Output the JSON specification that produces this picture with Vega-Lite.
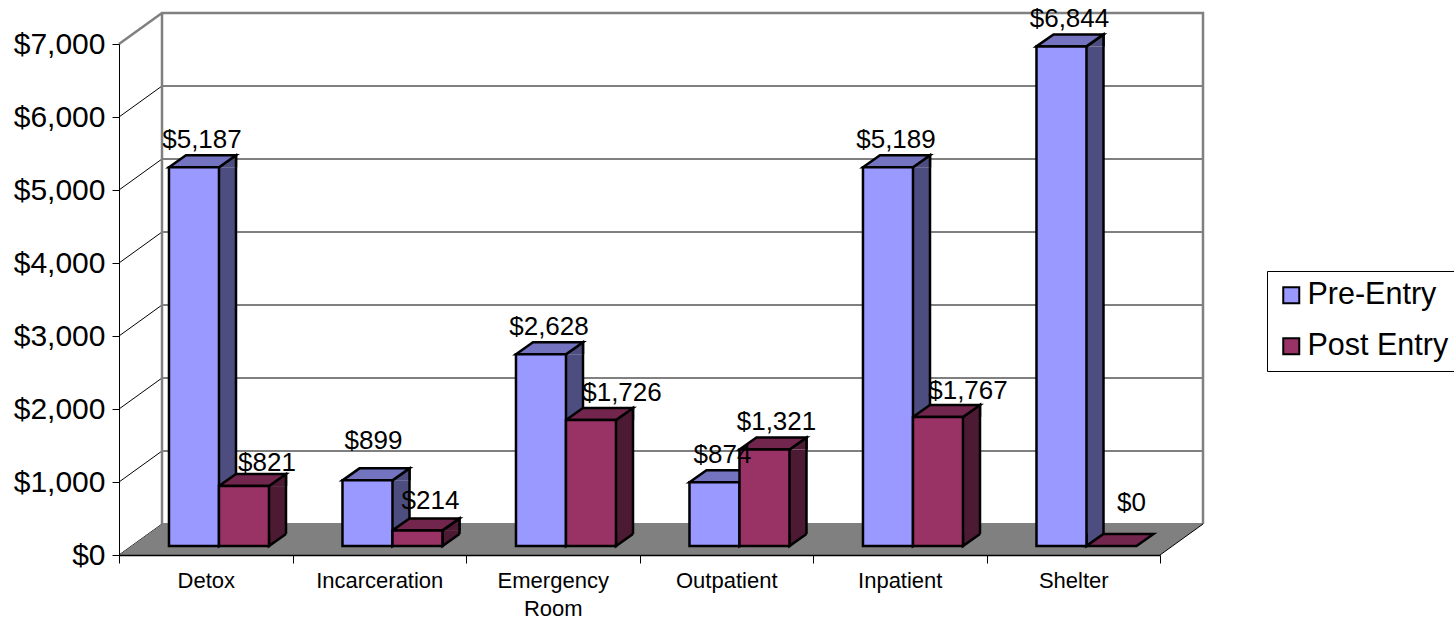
{
"$schema":"https://vega.github.io/schema/vega-lite/v6.json",
"width":1041,"height":511,
"autosize":{"type":"none"},
"padding":{"left":119,"top":44,"right":294,"bottom":64},
"background":"white",
"config":{"font":"Liberation Sans","view":{"stroke":null}},
"datasets":{
"ticks":[{"tick":0},{"tick":1000},{"tick":2000},{"tick":3000},{"tick":4000},{"tick":5000},{"tick":6000},{"tick":7000}],
"costs":[
{"category":"Detox","series":"Pre-Entry","value":5187},
{"category":"Detox","series":"Post Entry","value":821},
{"category":"Incarceration","series":"Pre-Entry","value":899},
{"category":"Incarceration","series":"Post Entry","value":214},
{"category":"Emergency Room","series":"Pre-Entry","value":2628},
{"category":"Emergency Room","series":"Post Entry","value":1726},
{"category":"Outpatient","series":"Pre-Entry","value":874},
{"category":"Outpatient","series":"Post Entry","value":1321},
{"category":"Inpatient","series":"Pre-Entry","value":5189},
{"category":"Inpatient","series":"Post Entry","value":1767},
{"category":"Shelter","series":"Pre-Entry","value":6844},
{"category":"Shelter","series":"Post Entry","value":0}
]},
"data":{"name":"costs"},
"encoding":{
"x":{"field":"category","type":"nominal","sort":["Detox","Incarceration","Emergency Room","Outpatient","Inpatient","Shelter"],
"scale":{"paddingInner":0,"paddingOuter":0},
"axis":{"title":null,"labelAngle":0,"labelFontSize":22,"labelColor":"#000","labelPadding":7,"labelLineHeight":28,"tickBand":"extent","tickSize":8,"tickColor":"#000","domainColor":"#000","domainWidth":1.5,"tickWidth":1,"zindex":1,"grid":false,
"labelExpr":"datum.label == 'Emergency Room' ? ['Emergency','Room'] : datum.label"}},
"xOffset":{"field":"series","type":"nominal","sort":["Pre-Entry","Post Entry"],"scale":{"paddingInner":0,"paddingOuter":0.735,"align":0.68}},
"y":{"field":"value","type":"quantitative","scale":{"domain":[0,7000],"nice":false},
"axis":{"title":null,"values":[0,1000,2000,3000,4000,5000,6000,7000],"format":"$,.0f","labelFontSize":30,"labelColor":"#000","labelPadding":7,"tickSize":7,"tickColor":"#000","domainColor":"#000","domainWidth":1,"zindex":1,"grid":false}}
},
"layer":[
{"data":{"name":"ticks"},"transform":[{"filter":"datum.tick < 7000"}],
"mark":{"type":"point","filled":false,"opacity":1,"size":4,"stroke":"#000","strokeWidth":1,"shape":"M-520.5 0 L-477.5 -31 L563.5 -31"},
"encoding":{"x":null,"xOffset":null,"y":{"field":"tick","type":"quantitative"}}},
{"data":{"name":"ticks"},"transform":[{"filter":"datum.tick == 0"}],
"mark":{"type":"point","filled":true,"opacity":1,"size":4,"fill":"#808080","stroke":null,"shape":"M-520.5 0 L520.5 0 L563.5 -31 L-477.5 -31 Z"},
"encoding":{"x":null,"xOffset":null,"y":{"field":"tick","type":"quantitative"}}},
{"data":{"name":"ticks"},"transform":[{"filter":"datum.tick == 7000"}],
"mark":{"type":"point","filled":false,"opacity":1,"size":4,"stroke":"#808080","strokeWidth":2.5,"shape":"M-520.5 0 L-477.5 -31 L563.5 -31 L563.5 480 M-477.5 -31 L-477.5 480"},
"encoding":{"x":null,"xOffset":null,"y":{"field":"tick","type":"quantitative"}}},
{"data":{"name":"ticks"},"transform":[{"filter":"datum.tick == 0"}],
"mark":{"type":"point","filled":false,"opacity":1,"size":4,"stroke":"#000","strokeWidth":1,"shape":"M520.5 0 L563.5 -31"},
"encoding":{"x":null,"xOffset":null,"y":{"field":"tick","type":"quantitative"}}},
{"transform":[{"filter":"datum.value > 0 && datum.series === 'Pre-Entry'"}],
"mark":{"type":"bar","width":17,"xOffset":21.75,"yOffset":-9,"y2Offset":-21,"fill":"#4D4D80"},
"encoding":{"xOffset":null,"y2":{"datum":0}}},
{"transform":[{"filter":"datum.value > 0 && datum.series === 'Post Entry'"}],
"mark":{"type":"bar","width":17,"xOffset":71.75,"yOffset":-9,"y2Offset":-21,"fill":"#4D1A33"},
"encoding":{"xOffset":null,"y2":{"datum":0}}},
{"transform":[{"filter":"datum.value > 0"}],
"mark":{"type":"point","filled":true,"opacity":1,"size":4,"yOffset":-9,"stroke":"#000","strokeWidth":2.5,"shape":"M25 -12 L25 0 L42 -12"},
"encoding":{"y":{"datum":0},
"fill":{"condition":{"test":"datum.series === 'Pre-Entry'","value":"#4D4D80"},"value":"#4D1A33"}}},
{"transform":[{"filter":"datum.value > 0 && datum.series === 'Pre-Entry'"}],
"mark":{"type":"rule","xOffset":30.25,"yOffset":-21,"y2Offset":-21,"stroke":"#000","strokeWidth":2.5},
"encoding":{"xOffset":null,"y2":{"datum":0}}},
{"transform":[{"filter":"datum.value > 0 && datum.series === 'Post Entry'"}],
"mark":{"type":"rule","xOffset":80.25,"yOffset":-21,"y2Offset":-21,"stroke":"#000","strokeWidth":2.5},
"encoding":{"xOffset":null,"y2":{"datum":0}}},
{"transform":[{"filter":"datum.value > 0"}],
"mark":{"type":"point","filled":true,"opacity":1,"size":4,"yOffset":-9,"stroke":"#000","strokeWidth":2.5,"shape":"M25 0 L42 -12 L42 0"},
"encoding":{"fill":{"condition":{"test":"datum.series === 'Pre-Entry'","value":"#4D4D80"},"value":"#4D1A33"}}},
{"mark":{"type":"point","filled":true,"opacity":1,"size":4,"yOffset":-9,"stroke":"#000","strokeWidth":2.5,"shape":"M-25 0 L-8 -12 L42 -12 L25 0 Z"},
"encoding":{"fill":{"condition":{"test":"datum.series === 'Pre-Entry'","value":"#7373BF"},"value":"#73264D"}}},
{"transform":[{"filter":"datum.value > 0"}],
"mark":{"type":"bar","yOffset":-9,"y2Offset":-9,"stroke":"#000","strokeWidth":2.5},
"encoding":{"y2":{"datum":0},
"fill":{"field":"series","type":"nominal","sort":["Pre-Entry","Post Entry"],"scale":{"domain":["Pre-Entry","Post Entry"],"range":["#9999FF","#993366"]},
"legend":{"title":null,"orient":"none","legendX":1148,"legendY":227,"padding":9,"strokeColor":"#000","labelFontSize":30.5,"labelColor":"#000","labelOffset":1,"symbolType":"square","symbolSize":256,"symbolStrokeColor":"#000","symbolStrokeWidth":2,"rowPadding":20,"labelLimit":300}}}},
{"transform":[{"filter":"indexof([5187,2628,5189,6844,874],datum.value) >= 0"}],
"mark":{"type":"text","fontSize":26,"fill":"#000","yOffset":-9,"dx":8,"dy":-27},
"encoding":{"text":{"field":"value","format":"$,.0f"}}},
{"transform":[{"filter":"datum.value == 821"}],
"mark":{"type":"text","fontSize":26,"fill":"#000","yOffset":-9,"dx":23,"dy":-23},
"encoding":{"text":{"field":"value","format":"$,.0f"}}},
{"transform":[{"filter":"datum.value == 899"}],
"mark":{"type":"text","fontSize":26,"fill":"#000","yOffset":-9,"dx":6,"dy":-39},
"encoding":{"text":{"field":"value","format":"$,.0f"}}},
{"transform":[{"filter":"datum.value == 214"}],
"mark":{"type":"text","fontSize":26,"fill":"#000","yOffset":-9,"dx":13,"dy":-29},
"encoding":{"text":{"field":"value","format":"$,.0f"}}},
{"transform":[{"filter":"datum.value == 1726"}],
"mark":{"type":"text","fontSize":26,"fill":"#000","yOffset":-9,"dx":31,"dy":-27},
"encoding":{"text":{"field":"value","format":"$,.0f"}}},
{"transform":[{"filter":"datum.value == 1321"}],
"mark":{"type":"text","fontSize":26,"fill":"#000","yOffset":-9,"dx":12,"dy":-28},
"encoding":{"text":{"field":"value","format":"$,.0f"}}},
{"transform":[{"filter":"datum.value == 1767"}],
"mark":{"type":"text","fontSize":26,"fill":"#000","yOffset":-9,"dx":30,"dy":-26},
"encoding":{"text":{"field":"value","format":"$,.0f"}}},
{"transform":[{"filter":"datum.value == 0"}],
"mark":{"type":"text","fontSize":26,"fill":"#000","yOffset":-9,"dx":20,"dy":-43},
"encoding":{"text":{"field":"value","format":"$,.0f"}}}
]
}
